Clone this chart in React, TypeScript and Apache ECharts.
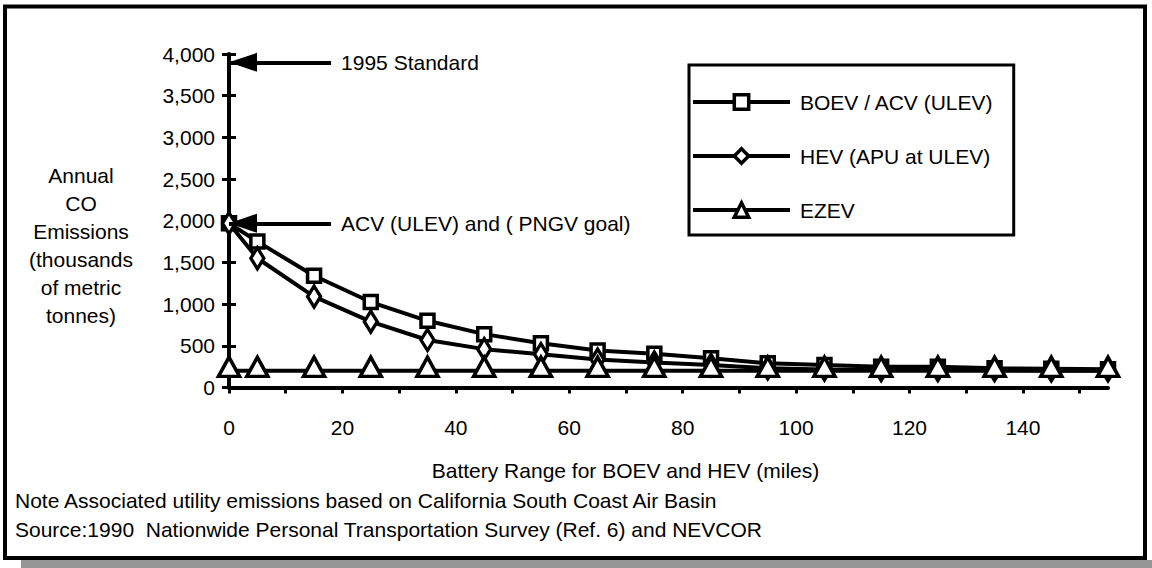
import React, { useEffect, useRef } from "react";
import * as echarts from "echarts";

// ---- Data ----
const milesX = [0, 5, 15, 25, 35, 45, 55, 65, 75, 85, 95, 105, 115, 125, 135, 145, 155];
const boevAcv = [1970, 1750, 1340, 1025, 800, 640, 530, 445, 405, 350, 290, 270, 250, 250, 230, 225, 220];
const hevApu = [1970, 1550, 1090, 790, 570, 460, 400, 335, 300, 270, 230, 215, 210, 210, 210, 205, 205];
const ezev = [200, 200, 200, 200, 200, 200, 200, 200, 200, 200, 200, 200, 200, 200, 200, 200, 200];

const seriesNames = ["BOEV / ACV (ULEV)", "HEV (APU at ULEV)", "EZEV"];
const yTicks = { min: 0, max: 4000, interval: 500 };
const xTicks = { min: 0, max: 155, tickMax: 150, interval: 10, labelEvery: 20 };

const standard1995 = 3900;
const acvGoal = 1970;
const arrowTailMiles = 18;
const arrowLabels = ["1995 Standard", "ACV (ULEV) and ( PNGV goal)"];

const yTitle = "Annual\nCO\nEmissions\n(thousands\nof metric\ntonnes)";
const xTitle = "Battery Range for BOEV and HEV (miles)";
const notes = [
  "Note Associated utility emissions based on California South Coast Air Basin",
  "Source:1990  Nationwide Personal Transportation Survey (Ref. 6) and NEVCOR",
];

const FONT = "'Liberation Sans', Arial, sans-serif";
const FS = 21;

function pairs(ys: number[]) {
  return milesX.map((x, i) => [x, ys[i]]);
}

function buildOption(): echarts.EChartsOption {
  const gridLeft = 229;
  const gridRight = 44;
  const gridWidth = 1152 - gridLeft - gridRight;
  const tickGridRight = gridRight + (gridWidth * (xTicks.max - xTicks.tickMax)) / (xTicks.max - xTicks.min);

  const markerStyle = { color: "#fff", borderColor: "#000", borderWidth: 3.5 };
  const lineStyle = { color: "#000", width: 4 };

  const arrow = (value: number, text: string) => [
    {
      coord: [xTicks.min, value],
      symbol: "triangle",
      symbolSize: [19, 28],
      symbolOffset: [0, 14],
    },
    {
      coord: [arrowTailMiles, value],
      symbol: "none",
      label: {
        show: true,
        position: "end",
        formatter: text,
        distance: 10,
        color: "#000",
        fontSize: FS,
        fontFamily: FONT,
      },
    },
  ];

  return {
    animation: false,
    backgroundColor: "#fff",
    textStyle: { fontFamily: FONT, color: "#000" },
    grid: [
      { left: gridLeft, right: gridRight, top: 54, bottom: 180.5, containLabel: false },
      { left: gridLeft, right: tickGridRight, top: 54, bottom: 180.5, containLabel: false },
    ],
    xAxis: [
      {
        type: "value",
        gridIndex: 0,
        min: xTicks.min,
        max: xTicks.max,
        interval: xTicks.interval,
        splitLine: { show: false },
        axisLine: { show: true, onZero: false, lineStyle: { color: "#000", width: 4 } },
        axisTick: { show: false },
        axisLabel: { show: false },
        name: xTitle,
        nameLocation: "middle",
        nameGap: 72,
        nameTextStyle: { fontSize: FS, color: "#000", fontFamily: FONT, padding: [0, 86, 0, 0] },
      },
      {
        type: "value",
        gridIndex: 1,
        min: xTicks.min,
        max: xTicks.tickMax,
        interval: xTicks.interval,
        splitLine: { show: false },
        axisLine: { show: false },
        axisTick: { show: true, inside: false, length: 6, lineStyle: { color: "#000", width: 3 } },
        axisLabel: {
          show: true,
          margin: 29,
          fontSize: FS,
          color: "#000",
          fontFamily: FONT,
          formatter: (v: number) => (v % xTicks.labelEvery === 0 ? String(v) : ""),
        },
      },
    ],
    yAxis: [
      {
        type: "value",
        gridIndex: 0,
        position: "left",
        min: yTicks.min,
        max: yTicks.max,
        interval: yTicks.interval,
        splitLine: { show: false },
        axisLine: { show: true, onZero: false, lineStyle: { color: "#000", width: 4 } },
        axisTick: { show: true, inside: false, length: 7, lineStyle: { color: "#000", width: 3 } },
        axisLabel: {
          show: true,
          margin: 14,
          fontSize: FS,
          color: "#000",
          fontFamily: FONT,
          formatter: (v: number) => v.toLocaleString("en-US"),
        },
      },
      {
        type: "value",
        gridIndex: 1,
        position: "left",
        min: yTicks.min,
        max: yTicks.max,
        interval: yTicks.interval,
        splitLine: { show: false },
        axisLine: { show: false },
        axisTick: { show: true, inside: true, length: 7, lineStyle: { color: "#000", width: 3 } },
        axisLabel: { show: false },
      },
    ],
    legend: {
      show: true,
      orient: "vertical",
      left: 689,
      top: 65,
      selectedMode: false,
      borderColor: "#000",
      borderWidth: 3,
      backgroundColor: "#fff",
      padding: [25, 20, 13, 2],
      itemWidth: 97,
      itemHeight: 18,
      itemGap: 30,
      lineStyle: { color: "#000", width: 4 },
      itemStyle: { color: "#fff", borderColor: "#000", borderWidth: 3.5 },
      textStyle: { fontSize: FS, color: "#000", fontFamily: FONT, lineHeight: 24, padding: [0, 0, 0, 5] },
      data: seriesNames,
    },
    series: [
      {
        name: seriesNames[0],
        type: "line",
        xAxisIndex: 0,
        yAxisIndex: 0,
        data: pairs(boevAcv),
        symbol: "rect",
        symbolSize: 13,
        showAllSymbol: true,
        lineStyle,
        itemStyle: markerStyle,
        z: 3,
        markLine: {
          silent: true,
          animation: false,
          lineStyle: { color: "#000", width: 4, type: "solid" },
          label: { show: false },
          data: [arrow(standard1995, arrowLabels[0]), arrow(acvGoal, arrowLabels[1])] as any,
        },
      },
      {
        name: seriesNames[1],
        type: "line",
        xAxisIndex: 0,
        yAxisIndex: 0,
        data: pairs(hevApu),
        symbol: "diamond",
        symbolSize: [13, 21],
        showAllSymbol: true,
        lineStyle,
        itemStyle: markerStyle,
        z: 4,
      },
      {
        name: seriesNames[2],
        type: "line",
        xAxisIndex: 0,
        yAxisIndex: 0,
        data: pairs(ezev),
        symbol: "triangle",
        symbolSize: [21, 19],
        symbolOffset: [0, -4],
        showAllSymbol: true,
        lineStyle,
        itemStyle: markerStyle,
        z: 5,
      },
    ],
    graphic: [
      { type: "rect", z: -10, shape: { x: 21, y: 560, width: 1131, height: 8 }, style: { fill: "#969696" } },
      {
        type: "rect",
        z: -9,
        shape: { x: 5, y: 6.5, width: 1140, height: 551.5 },
        style: { fill: "none", stroke: "#000", lineWidth: 4 },
      },
      {
        type: "text",
        x: 81,
        y: 245,
        style: {
          text: yTitle,
          fontSize: FS,
          fontFamily: FONT,
          fill: "#000",
          align: "center",
          verticalAlign: "middle",
          lineHeight: 28,
        },
      },
      {
        type: "text",
        x: 15,
        y: 500,
        style: { text: notes[0], fontSize: FS, fontFamily: FONT, fill: "#000", align: "left", verticalAlign: "middle" },
      },
      {
        type: "text",
        x: 15,
        y: 529,
        style: { text: notes[1], fontSize: FS, fontFamily: FONT, fill: "#000", align: "left", verticalAlign: "middle" },
      },
    ],
  } as echarts.EChartsOption;
}

export default function App() {
  const ref = useRef<HTMLDivElement>(null);
  useEffect(() => {
    if (!ref.current) return;
    const chart = echarts.init(ref.current, null, { renderer: "svg" });
    chart.setOption(buildOption());
    return () => chart.dispose();
  }, []);
  return (
    <div
      ref={ref}
      style={{ position: "fixed", left: 0, top: 0, width: 1152, height: 568, background: "#fff" }}
    />
  );
}
